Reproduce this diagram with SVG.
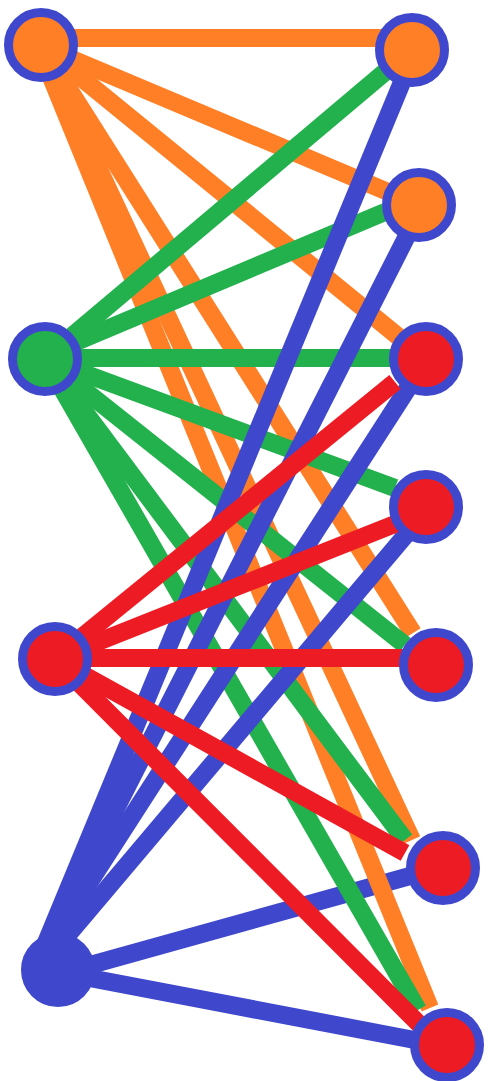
<svg xmlns="http://www.w3.org/2000/svg" width="488" height="1081" viewBox="0 0 488 1081">
<style>
line{stroke-width:18;stroke-linecap:butt;fill:none}
.o{stroke:#FF7F27}.g{stroke:#22B14C}.r{stroke:#ED1C24}.b{stroke:#3F48CC}
circle{stroke:#3F48CC;stroke-width:9}
.no{fill:#FF7F27}.ng{fill:#22B14C}.nr{fill:#ED1C24}.nb{fill:#3F48CC}
</style>
<rect width="488" height="1081" fill="#ffffff"/>
<g id="connectors">
<line class="b" x1="58" y1="974" x2="410" y2="876"/>
<line class="b" x1="58" y1="972" x2="425" y2="1042"/>
<line class="o" x1="41" y1="38" x2="412" y2="38"/>
<line class="o" x1="41" y1="46" x2="419" y2="205"/>
<line class="o" x1="41" y1="45" x2="400" y2="338"/>
<line class="o" x1="41" y1="45" x2="413" y2="633"/>
<line class="o" x1="41" y1="45" x2="412" y2="840"/>
<line class="o" x1="38" y1="45" x2="430" y2="1008"/>
<line class="g" x1="45" y1="359" x2="385" y2="72"/>
<line class="g" x1="45" y1="355" x2="385" y2="212"/>
<line class="g" x1="45" y1="358" x2="426" y2="358"/>
<line class="g" x1="45" y1="359" x2="395" y2="488"/>
<line class="g" x1="45" y1="359" x2="405" y2="645"/>
<line class="g" x1="45" y1="359" x2="405" y2="840"/>
<line class="g" x1="45" y1="359" x2="418" y2="1010"/>
<line class="b" x1="38" y1="962" x2="405" y2="75"/>
<line class="b" x1="38" y1="962" x2="410" y2="230"/>
<line class="b" x1="38" y1="962" x2="410" y2="385"/>
<line class="b" x1="45" y1="962" x2="410" y2="530"/>
<line class="r" x1="55" y1="659" x2="395" y2="382"/>
<line class="r" x1="55" y1="659" x2="400" y2="522"/>
<line class="r" x1="55" y1="658" x2="436" y2="658"/>
<line class="r" x1="55" y1="659" x2="405" y2="853"/>
<line class="r" x1="55" y1="659" x2="420" y2="1025"/>
</g>
<g id="L1"><circle class="no" cx="41" cy="45" r="32.5"/></g>
<g id="L2"><circle class="ng" cx="45" cy="359" r="32.5"/></g>
<g id="L3"><circle class="nr" cx="55" cy="659" r="32.5"/></g>
<g id="L4"><circle class="nb" cx="58" cy="970" r="32.5"/></g>
<g id="R1"><circle class="no" cx="412" cy="50" r="32.5"/></g>
<g id="R2"><circle class="no" cx="419" cy="205" r="32.5"/></g>
<g id="R3"><circle class="nr" cx="426" cy="359" r="32.5"/></g>
<g id="R4"><circle class="nr" cx="426" cy="507" r="32.5"/></g>
<g id="R5"><circle class="nr" cx="436" cy="665" r="32.5"/></g>
<g id="R6"><circle class="nr" cx="443" cy="868" r="32.5"/></g>
<g id="R7"><circle class="nr" cx="447" cy="1045" r="32.5"/></g>
</svg>
